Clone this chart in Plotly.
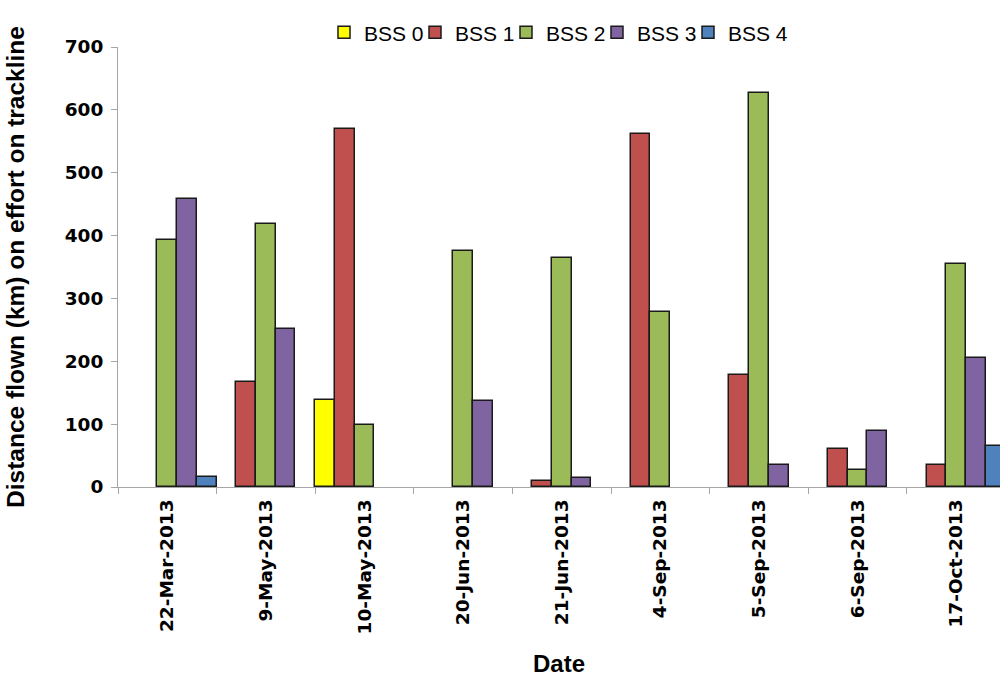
import plotly.graph_objects as go

dates = ["22-Mar-2013", "9-May-2013", "10-May-2013", "20-Jun-2013", "21-Jun-2013",
         "4-Sep-2013", "5-Sep-2013", "6-Sep-2013", "17-Oct-2013"]
bss0 = [None, None, 138, None, None, None, None, None, None]
bss1 = [None, 167, 569, None, 10, 562, 178, 60, 35]
bss2 = [393, 419, 98, 375, 364, 279, 627, 27, 354]
bss3 = [458, 251, None, 137, 14, None, 35, 89, 205]
bss4 = [16, None, None, None, None, None, None, None, 65]

series = [("BSS 0", bss0, "#FFFF00"), ("BSS 1", bss1, "#C0504D"),
          ("BSS 2", bss2, "#9BBB59"), ("BSS 3", bss3, "#8064A2"),
          ("BSS 4", bss4, "#4F81BD")]

legend_names = ["legend", "legend2", "legend3", "legend4", "legend5"]
legend_x = [324, 415, 506, 597, 688]

fig = go.Figure()
for (name, vals, col), lg in zip(series, legend_names):
    fig.add_trace(go.Bar(x=dates, y=vals, name=name, legend=lg, showlegend=True,
                         marker=dict(color=col, line=dict(color="#1a1a1a", width=1.5))))

tickfont = dict(size=18.5, family="DejaVu Sans", weight="bold", color="black")

legend_layout = {}
for lg, lx in zip(legend_names, legend_x):
    legend_layout[lg] = dict(orientation="h", xref="container", yref="container",
                             x=lx / 1000, y=0.982, xanchor="left", yanchor="top",
                             font=dict(size=21), itemwidth=30,
                             bgcolor="rgba(0,0,0,0)", visible=True)

fig.update_layout(
    width=1000, height=677,
    showlegend=True,
    barmode="group", bargap=0, bargroupgap=0,
    plot_bgcolor="white", paper_bgcolor="white",
    margin=dict(l=118, r=0, t=47, b=190, autoexpand=False),
    font=dict(family="Liberation Sans, Arial, sans-serif", color="black"),
    xaxis=dict(
        type="category", range=[-0.5, 8.445],
        showline=True, linecolor="#a6a6a6", linewidth=1,
        ticks="outside", tickson="boundaries", ticklen=6, tickcolor="#a6a6a6",
        tickangle=-90, tickfont=tickfont, ticklabelstandoff=4,
        title=dict(text="Date", font=dict(size=24, weight="bold"), standoff=21),
        showgrid=False,
    ),
    yaxis=dict(
        range=[0, 700], dtick=100,
        showline=True, linecolor="#a6a6a6", linewidth=1,
        ticks="outside", ticklen=6, tickcolor="#a6a6a6",
        tickfont=tickfont, ticklabelstandoff=4,
        showgrid=False, zeroline=False,
        title=dict(text="Distance flown (km) on effort on trackline",
                   font=dict(size=24.5, weight="bold"), standoff=33),
    ),
    **legend_layout,
)

fig.write_html("out.html", config={"displayModeBar": False},
               post_script="document.body.style.margin='0';")
